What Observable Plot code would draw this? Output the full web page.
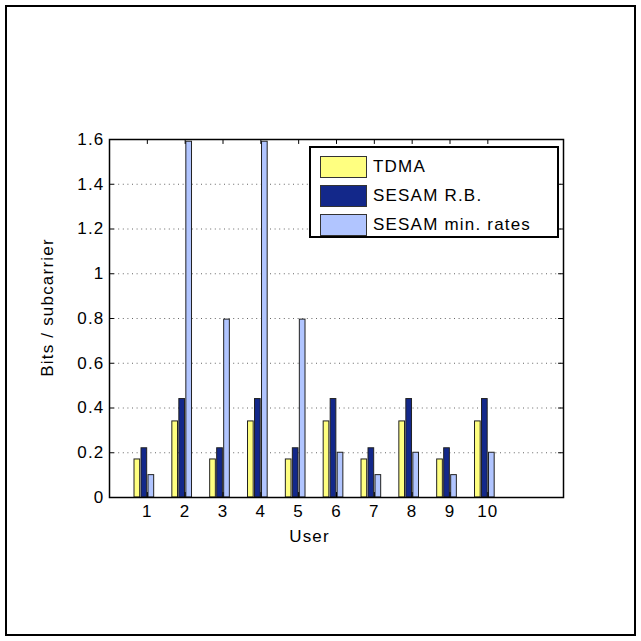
<!DOCTYPE html>
<html>
<head>
<meta charset="utf-8">
<script src="https://cdn.jsdelivr.net/npm/d3@7"></script>
<script src="https://cdn.jsdelivr.net/npm/@observablehq/plot@0.6"></script>
<style>
  html, body { margin: 0; padding: 0; background: #fff; }
  #wrap { position: relative; width: 641px; height: 641px; overflow: hidden; font-family: "Liberation Sans", Arial, sans-serif; }
  #outer { position: absolute; left: 5px; top: 5px; width: 631px; height: 631px; box-sizing: border-box; border: 2px solid #000; pointer-events: none; }
  #legend { position: absolute; left: 309px; top: 146px; width: 250px; height: 92px; box-sizing: border-box; border: 2px solid #000; background: #fff; padding-top: 5px; }
  .row { display: flex; align-items: center; height: 28.7px; }
  .sw { width: 45px; height: 20px; margin-left: 9px; margin-right: 6px; border: 1px solid #333; box-sizing: content-box; }
  .lab { font-size: 17px; letter-spacing: 1.2px; color: #000; }
</style>
</head>
<body>
<div id="wrap">
  <div id="chart"></div>
  <div id="legend"></div>
  <div id="outer"></div>
</div>
<script>
const users = [1, 2, 3, 4, 5, 6, 7, 8, 9, 10];
const seriesNames = ["TDMA", "SESAM R.B.", "SESAM min. rates"];
const tdma     = [0.17, 0.34, 0.17, 0.34, 0.17, 0.34, 0.17, 0.34, 0.17, 0.34];
const sesamRB  = [0.22, 0.44, 0.22, 0.44, 0.22, 0.44, 0.22, 0.44, 0.22, 0.44];
const sesamMin = [0.10, 1.59, 0.795, 1.59, 0.795, 0.20, 0.10, 0.20, 0.10, 0.20];
const colors = ["#ffff80", "#13288a", "#b1c5ff"];
const yTicks = [0, 0.2, 0.4, 0.6, 0.8, 1, 1.2, 1.4, 1.6];

// group layout (bar centre offsets relative to the user tick, bar width) in x units
const offsets = [-0.264, -0.079, 0.106];
const barW = 0.15;

const seriesValues = [tdma, sesamRB, sesamMin];
const bars = [];
seriesValues.forEach((vals, s) => {
  vals.forEach((v, i) => {
    bars.push({user: users[i], series: seriesNames[s], s, value: v});
  });
});

const xMax = 12;
const tickLenX = 0.13;   // inward tick length in x units
const tickLenY = 0.022;  // inward tick length in y units

const chart = Plot.plot({
  width: 641,
  height: 641,
  marginLeft: 109,
  marginRight: 78,
  marginTop: 139,
  marginBottom: 144,
  style: {fontFamily: "'Liberation Sans', Arial, sans-serif", fontSize: "17px", letterSpacing: "1.2px", background: "transparent", color: "#000"},
  x: {domain: [0, xMax]},
  y: {domain: [0, 1.6]},
  marks: [
    Plot.ruleY(yTicks.slice(1, -1), {y: d => d, stroke: "#666", strokeWidth: 1, strokeDasharray: "1,3.6"}),
    Plot.rectY(bars, {
      x1: d => d.user + offsets[d.s] - barW / 2,
      x2: d => d.user + offsets[d.s] + barW / 2,
      y1: 0,
      y2: "value",
      fill: d => colors[d.s],
      stroke: "#222",
      strokeWidth: 1
    }),
    // inward ticks
    Plot.ruleY(yTicks, {y: d => d, x1: 0, x2: tickLenX, stroke: "#000"}),
    Plot.ruleY(yTicks, {y: d => d, x1: xMax - tickLenX, x2: xMax, stroke: "#000"}),
    Plot.ruleX(users, {x: d => d, y1: 0, y2: tickLenY, stroke: "#000"}),
    Plot.ruleX(users, {x: d => d, y1: 1.6 - tickLenY, y2: 1.6, stroke: "#000"}),
    Plot.frame({stroke: "#000", strokeWidth: 1.5}),
    Plot.axisY({ticks: yTicks, tickSize: 0, tickPadding: 5, tickFormat: d => String(+d.toFixed(1)), label: null}),
    Plot.axisX({ticks: users, tickSize: 0, tickPadding: 7, tickFormat: d => String(d), label: null}),
    Plot.text(["User"], {text: d => d, frameAnchor: "bottom", textAnchor: "middle", lineAnchor: "middle", dx: -27, dy: 39, fontSize: 17}),
    Plot.text(["Bits / subcarrier"], {text: d => d, frameAnchor: "left", textAnchor: "middle", lineAnchor: "middle", rotate: -90, dx: -62, dy: -11, fontSize: 17})
  ]
});
document.getElementById("chart").appendChild(chart);

// legend
const legend = document.getElementById("legend");
seriesNames.forEach((name, s) => {
  const row = document.createElement("div");
  row.className = "row";
  const sw = document.createElement("div");
  sw.className = "sw";
  sw.style.background = colors[s];
  const lab = document.createElement("span");
  lab.className = "lab";
  lab.textContent = name;
  row.appendChild(sw);
  row.appendChild(lab);
  legend.appendChild(row);
});
</script>
</body>
</html>
